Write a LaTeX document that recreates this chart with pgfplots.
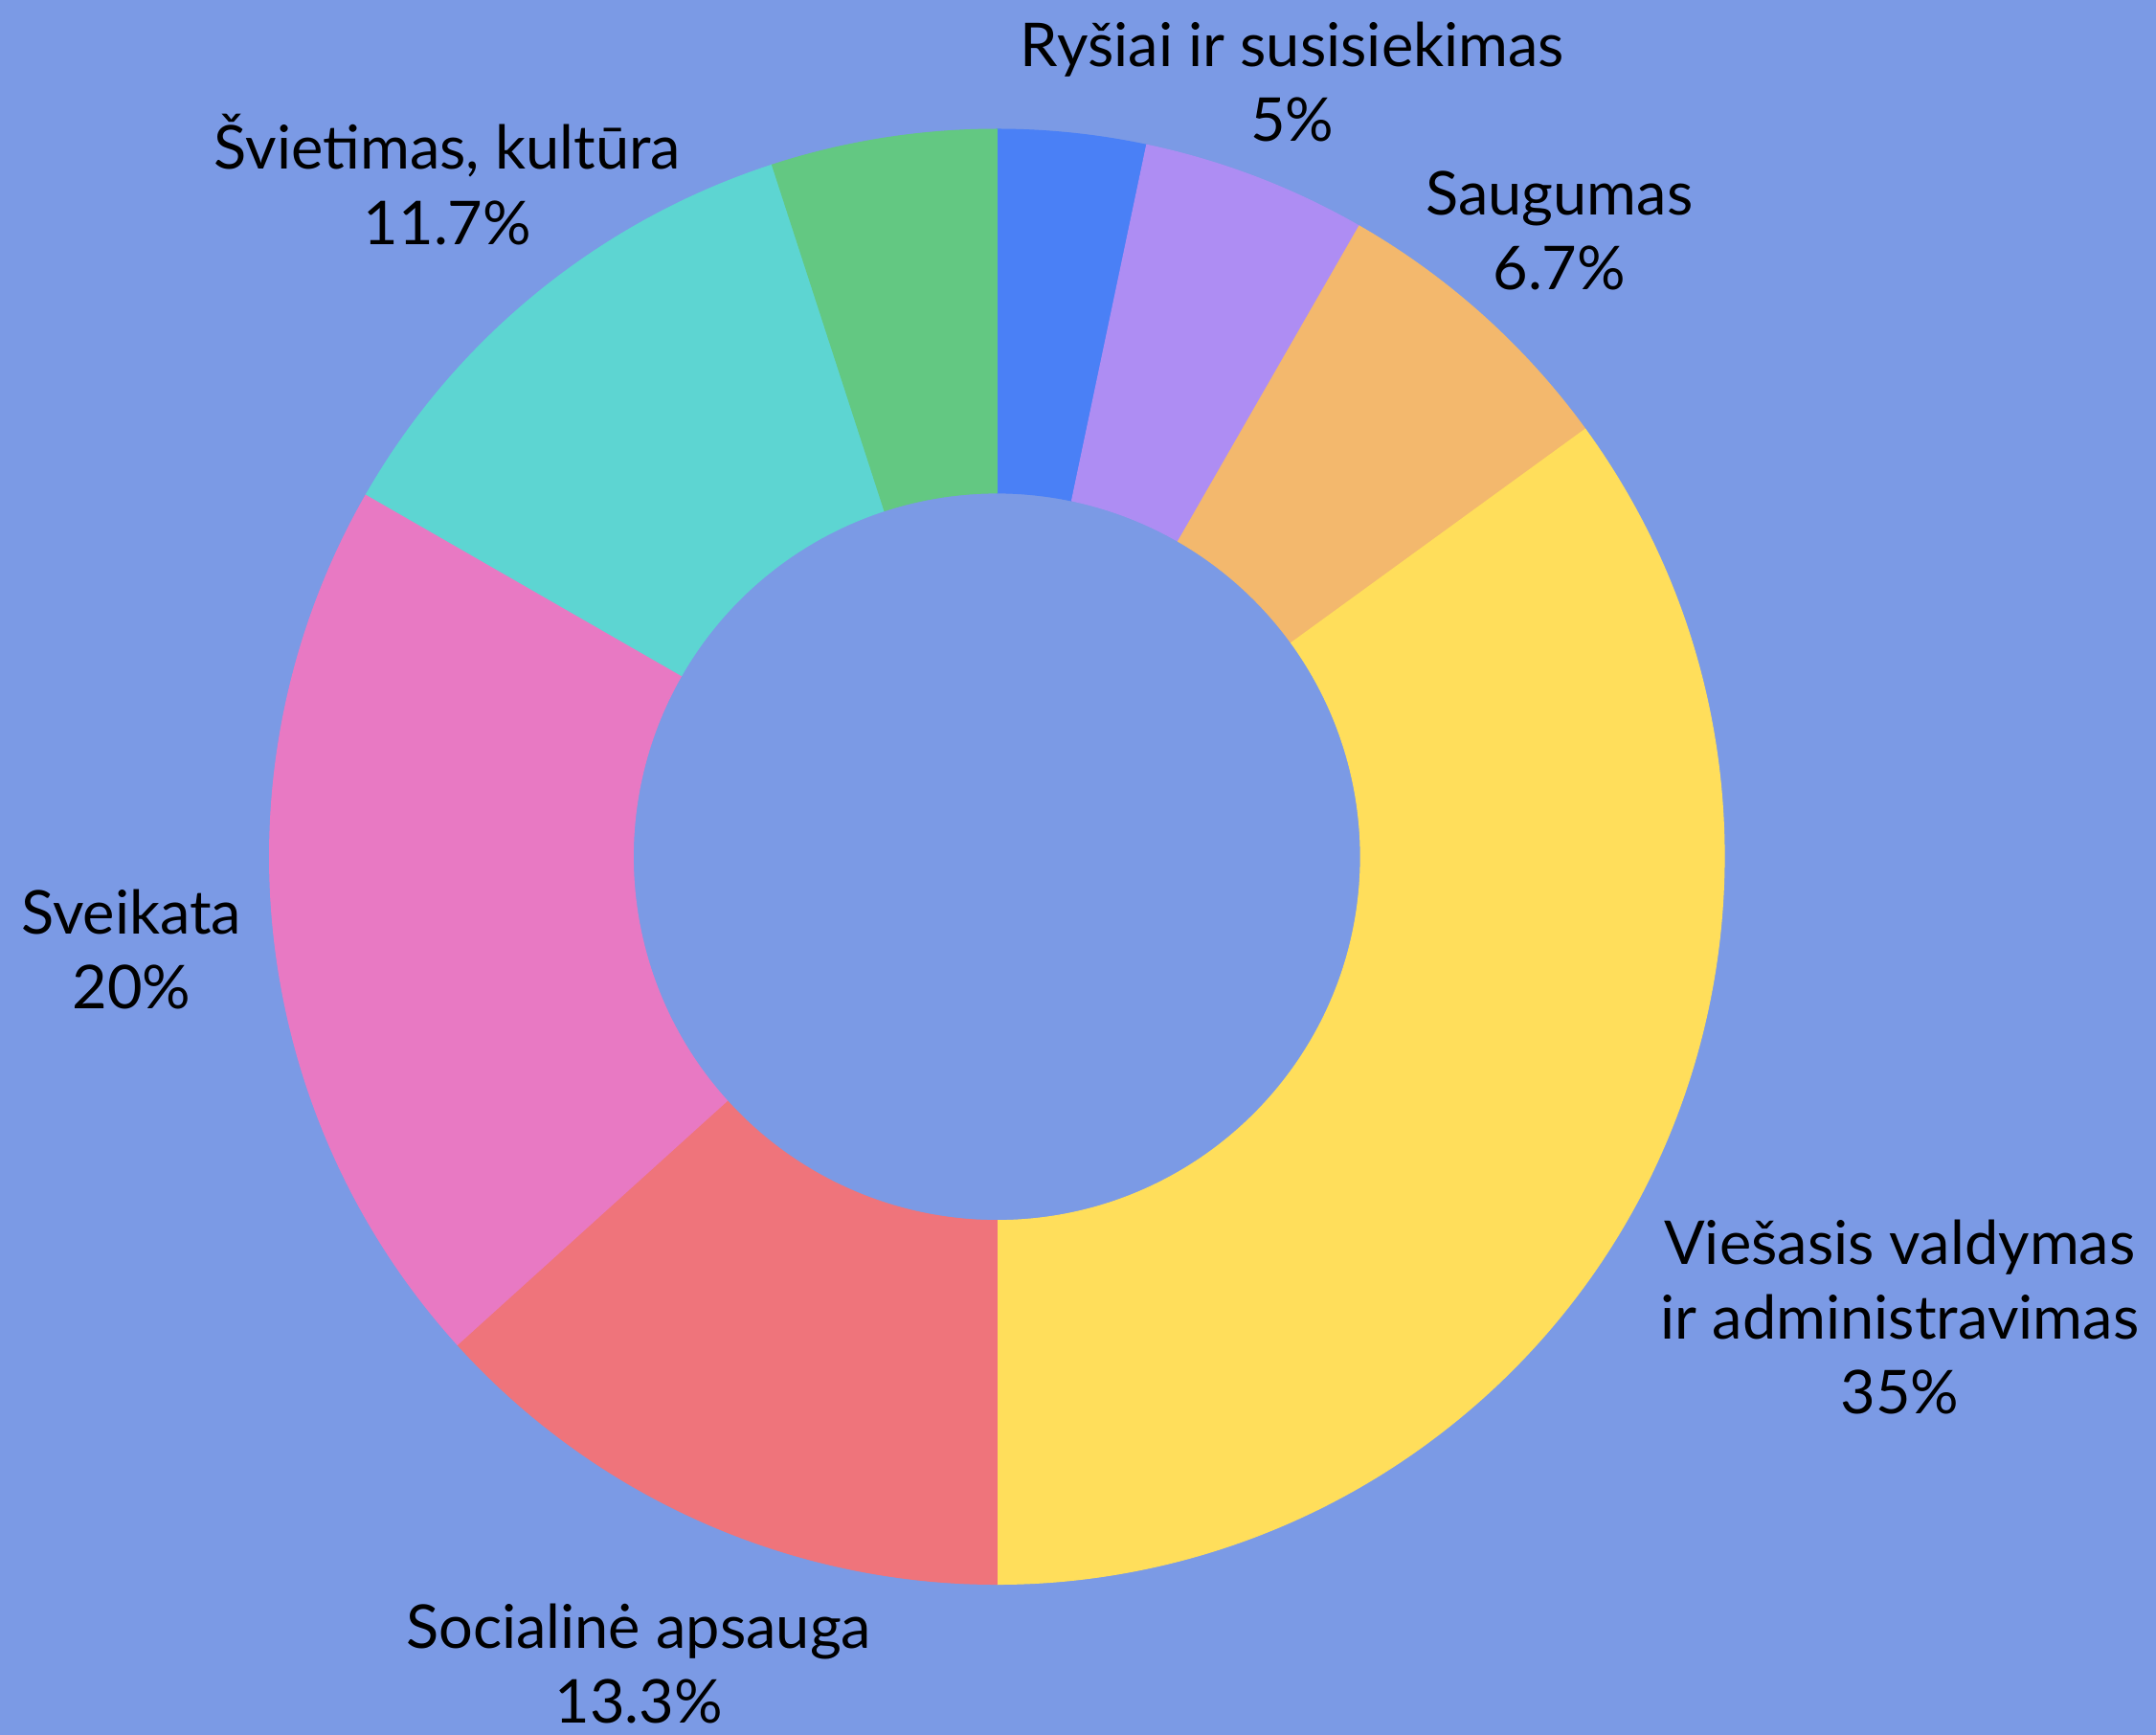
\documentclass[border=0pt]{standalone}
\usepackage{pgfplots}
\pgfplotsset{compat=1.18}
\usepackage{fontspec}
\setmainfont{Lato}

\definecolor{bg}{HTML}{7B9AE5}
\definecolor{cBlue}{HTML}{4A80F6}
\definecolor{cPurple}{HTML}{AE8DF3}
\definecolor{cOrange}{HTML}{F3B86D}
\definecolor{cYellow}{HTML}{FFDE5B}
\definecolor{cRed}{HTML}{EF747B}
\definecolor{cPink}{HTML}{E879C3}
\definecolor{cCyan}{HTML}{5DD5D2}
\definecolor{cGreen}{HTML}{63C882}

% share (%) / colour / label / label distance from centre (0 = no label)
\def\slices{
  3.3/cBlue/{}/0,
  5/cPurple/{Ryšiai ir susisiekimas\\5\%}/6.03,
  6.7/cOrange/{Saugumas\\6.7\%}/6.12,
  35/cYellow/{Viešasis valdymas\\ir administravimas\\35\%}/7.37,
  13.3/cRed/{Socialinė apsauga\\13.3\%}/6.42,
  20/cPink/{Sveikata\\20\%}/6.33,
  11.7/cCyan/{Švietimas, kultūra\\11.7\%}/6.34,
  5/cGreen/{}/0}

\begin{document}
\begin{tikzpicture}
\begin{axis}[
    x=1cm, y=1cm,
    xmin=0, xmax=15.68, ymin=0, ymax=12.61,
    hide axis, clip=false,
]
\fill[bg] (-0.2,-0.2) rectangle (15.88,12.81);
\coordinate (ll) at (0,0);
\coordinate (ur) at (15.68,12.61);
\pgfplotsextra{
  \def\cx{7.25}\def\cy{6.38}\def\R{5.29}\def\r{2.645}
  \xdef\start{90}
  \foreach \v/\c/\lab/\d in \slices {
    \pgfmathsetmacro\a{\start}
    \pgfmathsetmacro\b{\start-3.6*\v}
    \pgfmathsetmacro\m{(\a+\b)/2}
    \fill[\c, draw=\c, line width=0.2pt]
      ({\cx+\R*cos(\a)},{\cy+\R*sin(\a)}) arc[start angle=\a, end angle=\b, radius=\R]
      -- ({\cx+\r*cos(\b)},{\cy+\r*sin(\b)}) arc[start angle=\b, end angle=\a, radius=\r]
      -- cycle;
    \ifdim\d pt>0pt
      \node[align=center, font=\fontsize{12.5}{15.5}\selectfont]
        at ({\cx+\d*cos(\m)},{\cy+\d*sin(\m)}) {\lab};
    \fi
    \xdef\start{\b}
  }
}
\end{axis}
\pgfresetboundingbox
\useasboundingbox (ll) rectangle (ur);
\end{tikzpicture}
\end{document}
